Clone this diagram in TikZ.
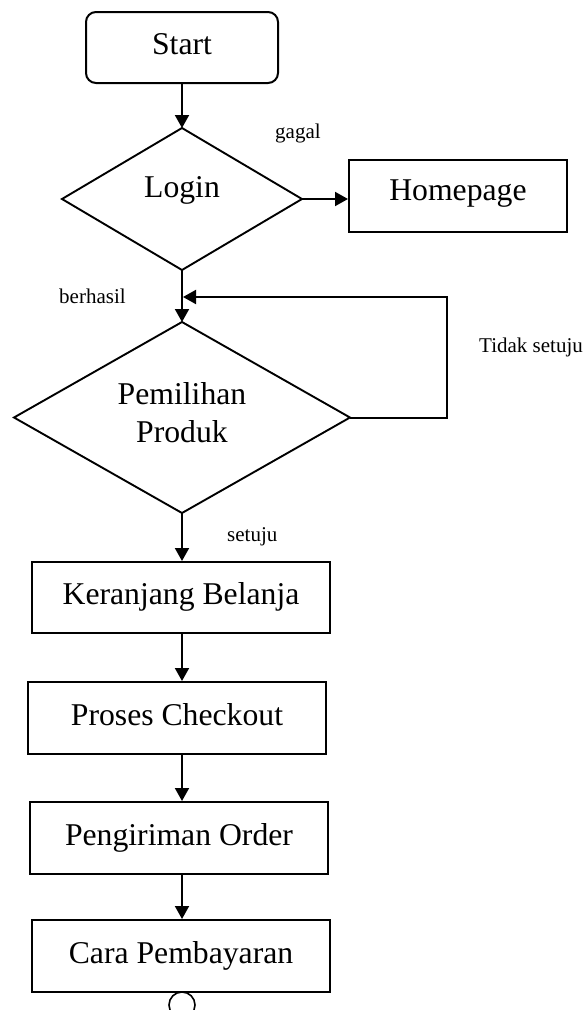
\documentclass[tikz,border=0pt]{standalone}
\usepackage{fontspec}
\setmainfont{Liberation Serif}
\usetikzlibrary{shapes.geometric,arrows.meta}
\begin{document}
\begin{tikzpicture}[x=1pt,y=-1pt,
  bigtext/.style={font=\fontsize{31.7}{38}\selectfont},
  smalltext/.style={font=\fontsize{21}{25}\selectfont, inner sep=0pt},
  stepbox/.style={draw, rectangle, line width=2pt, inner sep=0pt, bigtext,
    text height=22pt, text depth=8pt},
  decision/.style={draw, diamond, line width=1.9pt, inner sep=0pt, outer sep=0pt},
  arr/.style={-{Triangle[length=13pt,width=14pt]}, line width=2pt}]
\useasboundingbox (0,0) rectangle (587,1010);
\clip (0,0) rectangle (587,1010);

% nodes
\node[stepbox, rounded corners=10pt, minimum width=192pt, minimum height=71pt] (start) at (182,47.5) {Start};
\node[decision, minimum width=240pt, minimum height=142pt] (login) at (182,199) {};
\node[bigtext, anchor=base, inner sep=0pt] (loginT) at (182,197) {Login};
\node[stepbox, text depth=14pt, minimum width=218pt, minimum height=72pt] (home) at (458,196) {Homepage};
\node[decision, minimum width=336pt, minimum height=191pt] (pem) at (182,417.5) {};
\node[bigtext, align=center, inner sep=0pt] (pemT) at (182,413) {Pemilihan\\Produk};
\node[stepbox, minimum width=298pt, minimum height=71pt] (ker) at (181,597.5) {Keranjang Belanja};
\node[stepbox, minimum width=298pt, minimum height=72pt] (pro) at (177,718) {Proses Checkout};
\node[stepbox, minimum width=298pt, minimum height=72pt] (kirim) at (179,838) {Pengiriman Order};
\node[stepbox, minimum width=298pt, minimum height=72pt] (cara) at (181,956) {Cara Pembayaran};
\node[draw, circle, minimum size=26pt, inner sep=0pt, line width=1.6pt] (endc) at (182,1005) {};

% labels
\node[smalltext, anchor=base west] (gagalL) at (275,138) {gagal};
\node[smalltext, anchor=base west] (berhasilL) at (59,303) {berhasil};
\node[smalltext, anchor=base west] (tidakL) at (479,352) {Tidak setuju};
\node[smalltext, anchor=base west] (setujuL) at (227,541) {setuju};

% connectors
\draw[arr] (start.south -| login.north) -- (login.north);
\draw[arr] (login.east) -- (home.west |- login.east);
\draw[arr] (login.south) -- (pem.north);
\coordinate (loopc) at (447,297);
\coordinate (loopend) at (183,297);
\draw[arr] (pem.east) -| (loopc) -- (loopend);
\draw[arr] (pem.south) -- (pem.south |- ker.north);
\draw[arr] (ker.south -| pem.south) -- (pem.south |- pro.north);
\draw[arr] (pro.south -| pem.south) -- (pem.south |- kirim.north);
\draw[arr] (kirim.south -| pem.south) -- (pem.south |- cara.north);
\end{tikzpicture}
\end{document}
